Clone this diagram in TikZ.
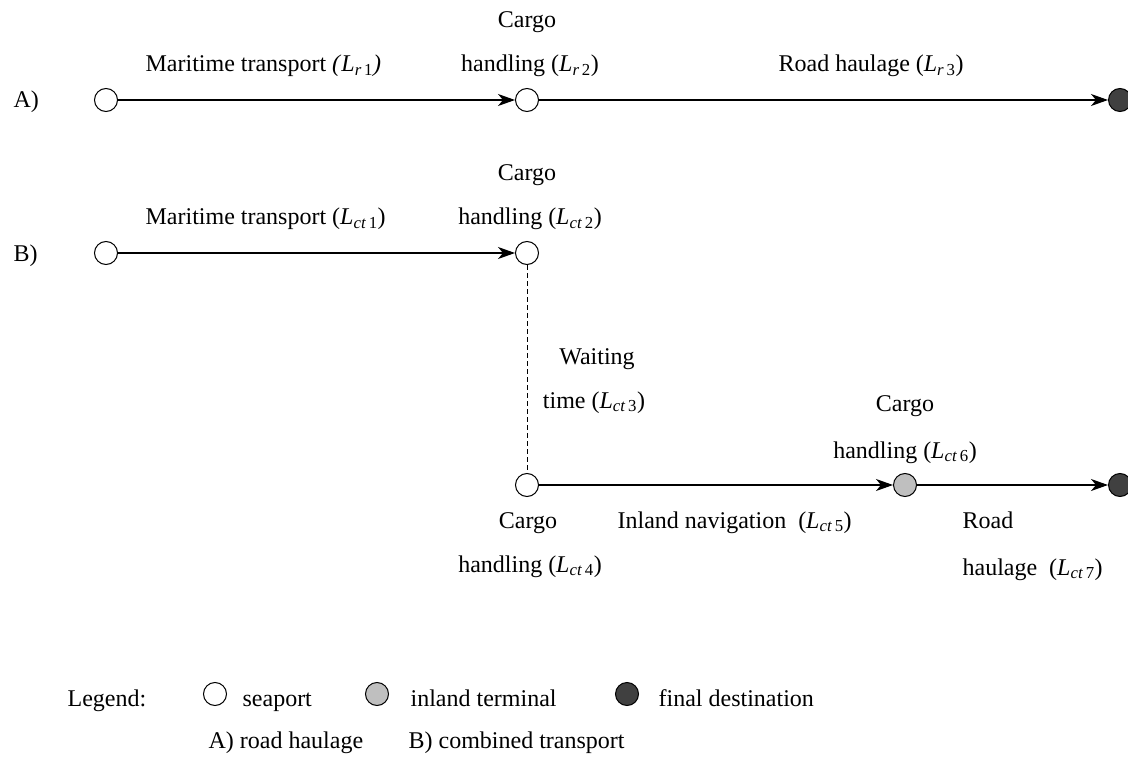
\documentclass[tikz,border=0pt]{standalone}
\usepackage{fontspec}
\setmainfont{Liberation Serif}
\usetikzlibrary{arrows.meta}

\newcommand{\Lsub}[2]{\textit{L}\textsubscript{\textit{#1}\,#2}}

\begin{document}
\begin{tikzpicture}[x=1pt,y=-1pt,->,>={Stealth[length=17pt,width=12pt,inset=5pt]},
      line width=1.2pt,font=\fontsize{24}{28}\selectfont,
      port/.style={circle,draw,line width=1pt,minimum size=23pt,inner sep=0pt},
      seaport/.style={port,fill=white},
      inland/.style={port,fill=black!25},
      destination/.style={port,fill=black!75},
      lbl/.style={anchor=base,inner sep=0pt},
      lblw/.style={anchor=base west,inner sep=0pt},
      wait/.style={-,line width=1pt,dash pattern=on 5pt off 3pt}]

    \useasboundingbox (0,0) rectangle (1128,757);

    % A) road haulage
    \node[lblw] (labA) at (13,108) {A)};
    \node[seaport] (sA1) at (106,100) {};
    \node[seaport] (sA2) at (527,100) {};
    \node[destination] (dA) at (1120,100) {};
    \node[lblw] (mariA) at (145,72) {Maritime transport \textit{(}\Lsub{r}{1}\textit{)}};
    \node[lbl] (cargoA) at (527,28) {Cargo};
    \node[lbl] (handA) at (530,72) {handling (\Lsub{r}{2})};
    \node[lblw] (roadA) at (778,72) {Road haulage (\Lsub{r}{3})};

    \path (sA1) edge (sA2)
    (sA2) edge (dA);

    % B) combined transport
    \node[lblw] (labB) at (13,261) {B)};
    \node[seaport] (sB1) at (106,253) {};
    \node[seaport] (sB2) at (527,253) {};
    \node[seaport] (sC) at (527,485) {};
    \node[inland] (iC) at (905,485) {};
    \node[destination] (dC) at (1120,485) {};
    \node[lblw] (mariB) at (145,225) {Maritime transport (\Lsub{ct}{1})};
    \node[lbl] (cargoB) at (527,181) {Cargo};
    \node[lbl] (handB) at (530,225) {handling (\Lsub{ct}{2})};
    \node[lbl] (waitB) at (597,364) {Waiting};
    \node[lbl] (timeB) at (594,408) {time (\Lsub{ct}{3})};
    \node[lbl] (cargoC) at (905,411) {Cargo};
    \node[lbl] (handC) at (905,458) {handling (\Lsub{ct}{6})};
    \node[lbl] (cargoD) at (528,528) {Cargo};
    \node[lbl] (handD) at (530,572) {handling (\Lsub{ct}{4})};
    \node[lblw] (inlandD) at (617,528) {Inland navigation~ (\Lsub{ct}{5})};
    \node[lblw] (roadD) at (962,528) {Road};
    \node[lblw] (haulD) at (962,575) {haulage~ (\Lsub{ct}{7})};

    \path (sB1) edge (sB2)
    (sB2) edge[wait] (sC)
    (sC) edge (iC)
    (iC) edge (dC);

    % legend
    \node[lblw] (legend) at (67,706) {Legend:};
    \node[seaport] (keyS) at (215,694) {};
    \node[lblw] (keyStxt) at (242,706) {seaport};
    \node[inland] (keyI) at (377,694) {};
    \node[lblw] (keyItxt) at (410,706) {inland terminal};
    \node[destination] (keyD) at (627,694) {};
    \node[lblw] (keyDtxt) at (658,706) {final destination};
    \node[lblw] (keyA) at (208,748) {A) road haulage};
    \node[lblw] (keyB) at (408,748) {B) combined transport};
  \end{tikzpicture}
\end{document}
